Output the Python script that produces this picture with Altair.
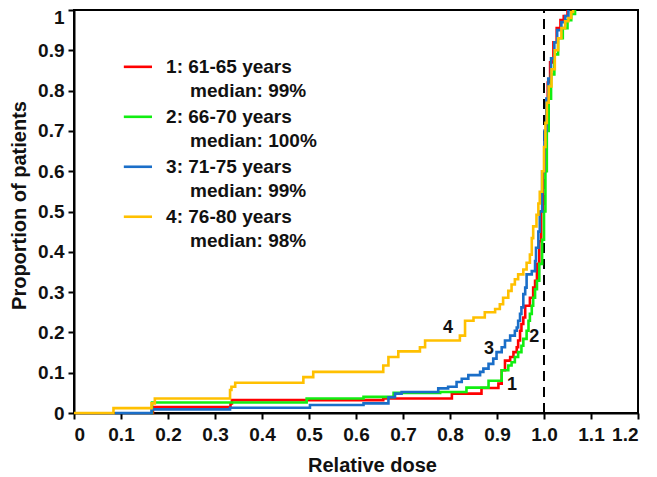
import altair as alt
import pandas as pd

# ---------------- data ----------------
series_names = ["1: 61-65 years", "2: 66-70 years", "3: 71-75 years", "4: 76-80 years"]
median_texts = ["median: 99%", "median: 100%", "median: 99%", "median: 98%"]
series_colors = ["#ff0000", "#11ee11", "#1a6ec8", "#ffc000"]
curve_tags = ["1", "2", "3", "4"]

dose_1 = [0.165, 0.168, 0.333, 0.336, 0.658, 0.804, 0.867, 0.903, 0.910, 0.917, 0.928, 0.935,
          0.942, 0.945, 0.949, 0.952, 0.956, 0.960, 0.970, 0.977, 0.981, 0.985, 0.990, 0.994,
          0.998, 1.002, 1.005, 1.008, 1.013, 1.020, 1.027, 1.035, 1.042, 1.050]
prop_1 = [0.0, 0.015, 0.024, 0.032, 0.036, 0.048, 0.062, 0.073, 0.106, 0.130, 0.139, 0.151,
          0.163, 0.180, 0.204, 0.221, 0.237, 0.266, 0.286, 0.311, 0.328, 0.370, 0.426, 0.500,
          0.600, 0.700, 0.770, 0.820, 0.870, 0.920, 0.955, 0.975, 0.985, 1.0]

dose_2 = [0.163, 0.166, 0.495, 0.616, 0.680, 0.779, 0.835, 0.882, 0.910, 0.924, 0.931, 0.938,
          0.945, 0.952, 0.956, 0.963, 0.967, 0.970, 0.974, 0.977, 0.981, 0.985, 0.990, 0.996,
          1.000, 1.003, 1.006, 1.010, 1.015, 1.022, 1.030, 1.040, 1.050, 1.058, 1.066]
prop_2 = [0.0, 0.026, 0.036, 0.040, 0.050, 0.052, 0.063, 0.080, 0.106, 0.118, 0.126, 0.139,
          0.151, 0.167, 0.184, 0.204, 0.229, 0.246, 0.266, 0.286, 0.307, 0.328, 0.370, 0.430,
          0.500, 0.600, 0.700, 0.780, 0.840, 0.890, 0.930, 0.955, 0.975, 0.990, 1.0]

dose_3 = [0.087, 0.165, 0.332, 0.502, 0.616, 0.669, 0.683, 0.697, 0.775, 0.796, 0.814, 0.825,
          0.839, 0.864, 0.871, 0.882, 0.892, 0.899, 0.910, 0.917, 0.928, 0.938, 0.942, 0.945,
          0.949, 0.952, 0.956, 0.960, 0.963, 0.974, 0.981, 0.983, 0.988, 0.991, 0.996, 1.001,
          1.005, 1.009, 1.015, 1.022, 1.028, 1.037, 1.045, 1.052]
prop_3 = [0.0, 0.009, 0.013, 0.020, 0.024, 0.039, 0.048, 0.052, 0.061, 0.065, 0.077, 0.085,
          0.094, 0.102, 0.110, 0.122, 0.135, 0.151, 0.163, 0.180, 0.192, 0.204, 0.212, 0.229,
          0.246, 0.262, 0.295, 0.311, 0.344, 0.352, 0.377, 0.410, 0.450, 0.500, 0.600, 0.700,
          0.780, 0.830, 0.880, 0.920, 0.950, 0.970, 0.985, 1.0]

dose_4 = [0.0, 0.084, 0.165, 0.172, 0.332, 0.335, 0.343, 0.488, 0.509, 0.658, 0.669, 0.690,
          0.736, 0.747, 0.821, 0.832, 0.850, 0.874, 0.896, 0.906, 0.913, 0.924, 0.931, 0.938,
          0.945, 0.956, 0.963, 0.970, 0.974, 0.977, 0.984, 0.988, 0.991, 0.996, 1.000, 1.003,
          1.006, 1.010, 1.016, 1.023, 1.030, 1.037, 1.045, 1.052, 1.058, 1.062]
prop_4 = [0.0, 0.012, 0.024, 0.036, 0.057, 0.065, 0.075, 0.089, 0.102, 0.118, 0.139, 0.153,
          0.163, 0.180, 0.192, 0.229, 0.237, 0.250, 0.258, 0.270, 0.286, 0.303, 0.319, 0.332,
          0.344, 0.356, 0.373, 0.393, 0.434, 0.463, 0.492, 0.520, 0.549, 0.600, 0.660, 0.720,
          0.770, 0.810, 0.853, 0.900, 0.930, 0.955, 0.972, 0.980, 0.995, 1.0]

# curve tag positions (data units)
tag_x = [0.932, 0.979, 0.883, 0.796]
tag_y = [0.069, 0.189, 0.159, 0.211]

x_ticks = [0, 0.1, 0.2, 0.3, 0.4, 0.5, 0.6, 0.7, 0.8, 0.9, 1.0, 1.1, 1.2]
y_ticks = [0, 0.1, 0.2, 0.3, 0.4, 0.5, 0.6, 0.7, 0.8, 0.9, 1.0]
reference_dose = 1.0

# ---------------- chart ----------------
FONT = "Liberation Sans"

X = alt.X("x:Q",
          scale=alt.Scale(domain=[0, 1.2], nice=False, zero=False),
          axis=alt.Axis(values=x_ticks,
                        labelExpr="datum.value == 0 ? '0' : format(datum.value, '.1f')",
                        title="Relative dose", grid=False,
                        titleX=298, titleY=52, titleAlign="center", titleBaseline="middle"))
Y = alt.Y("y:Q",
          scale=alt.Scale(domain=[0, 1], nice=False),
          axis=alt.Axis(values=y_ticks,
                        labelExpr="datum.value == 0 ? '0' : datum.value == 1 ? '1' : format(datum.value, '.1f')",
                        labelOffset={"condition": {"test": "datum.value == 1", "value": 7}, "value": 0},
                        title="Proportion of patients", grid=False,
                        titleX=-55, titleY=195, titleAngle=270,
                        titleAlign="center", titleBaseline="middle"))

ref_df = pd.DataFrame({"x": [reference_dose], "y": [0.0], "y2": [1.0]})
ref = alt.Chart(ref_df).mark_rule(color="black", strokeWidth=2, strokeDash=[10, 6]).encode(
    x=X, y=Y, y2="y2:Q")

layers = [ref]
doses = [dose_1, dose_2, dose_3, dose_4]
props = [prop_1, prop_2, prop_3, prop_4]
for i in range(4):
    df = pd.DataFrame({"x": doses[i], "y": props[i], "order": list(range(len(doses[i])))})
    layers.append(
        alt.Chart(df).mark_line(interpolate="step-after", strokeWidth=2.6,
                                color=series_colors[i]).encode(x=X, y=Y, order="order:Q"))

# legend (positions in data units)
leg_top = 0.859
leg_step = 0.124
leg_rows = pd.DataFrame({
    "x": [0.106] * 4,
    "x2": [0.166] * 4,
    "y": [leg_top - leg_step * i for i in range(4)],
    "name": series_names,
    "median": median_texts,
    "color": series_colors,
})
leg_rows["tx"] = 0.196
leg_rows["mx"] = 0.247
leg_rows["my"] = leg_rows["y"] - 0.0596

leg_lines = alt.Chart(leg_rows).mark_rule(strokeWidth=2.6).encode(
    x=X, x2="x2:Q", y=Y,
    color=alt.Color("color:N", scale=None, legend=None))
leg_names = alt.Chart(leg_rows).mark_text(
    align="left", baseline="middle", font=FONT, fontSize=19, fontWeight="bold", color="#111"
).encode(x=alt.X("tx:Q"), y=alt.Y("y:Q"), text="name:N")
leg_meds = alt.Chart(leg_rows).mark_text(
    align="left", baseline="middle", font=FONT, fontSize=19, fontWeight="bold", color="#111"
).encode(x=alt.X("mx:Q"), y=alt.Y("my:Q"), text="median:N")

tags_df = pd.DataFrame({"x": tag_x, "y": tag_y, "t": curve_tags})
tags = alt.Chart(tags_df).mark_text(
    align="center", baseline="middle", font=FONT, fontSize=18, fontWeight="bold", color="#111"
).encode(x=X, y=Y, text="t:N")

layers += [leg_lines, leg_names, leg_meds, tags]

chart = alt.layer(*layers).properties(
    width=564, height=403,
    autosize="none",
    padding={"left": 66, "top": 2, "right": 10, "bottom": 64},
).configure_view(
    stroke="black", strokeWidth=2
).configure_axis(
    domainColor="black", domainWidth=2,
    tickColor="black", tickWidth=2, tickSize=6,
    labelFont=FONT, labelFontSize=19, labelFontWeight="bold", labelColor="#111",
    labelPadding=4,
    titleFont=FONT, titleFontSize=20, titleFontWeight="bold", titleColor="#111",
).configure_axisX(labelPadding=6)

chart.save("out.html", embed_options={"renderer": "svg", "actions": False})
